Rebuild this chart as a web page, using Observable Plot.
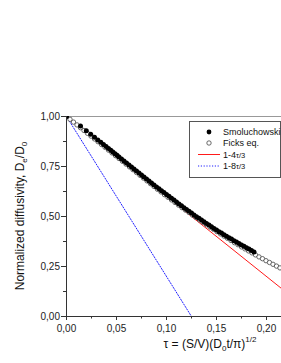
<!DOCTYPE html>
<html>
<head>
<meta charset="utf-8">
<script src="https://cdn.jsdelivr.net/npm/d3@7"></script>
<script src="https://cdn.jsdelivr.net/npm/@observablehq/plot@0.6"></script>
<style>
  body { margin: 0; background: white; }
  svg { display: block; }
</style>
</head>
<body>
<div id="chart"></div>
<script>
// Fick's equation (open circles)
const ficksTau = [0, .0035, .007, .0105, .014, .0175, .021, .0245, .028, .0315, .035, .0385, .042, .0455, .049, .0525, .056, .0595, .063, .0665, .07, .0735, .077, .0805, .084, .0875, .091, .0945, .098, .1015, .105, .1085, .112, .1155, .119, .1225, .126, .1295, .133, .1365, .14, .1435, .147, .1505, .154, .1575, .161, .1645, .168, .1715, .175, .1785, .182, .1855, .189, .1925, .196, .1995, .203, .2065, .21, .2135, .217];
const ficksD = [1.000, .986, .972, .958, .944, .930, .916, .902, .888, .874, .860, .846, .832, .818, .804, .790, .776, .762, .748, .734, .720, .706, .692, .678, .664, .650, .636, .623, .609, .596, .583, .570, .557, .544, .532, .520, .507, .495, .483, .471, .459, .447, .436, .424, .413, .402, .391, .380, .369, .359, .348, .338, .328, .318, .308, .298, .289, .279, .270, .261, .252, .243, .234];

// Smoluchowski (filled dots)
const smolTau = [0, .014, .0198, .0242, .028, .0313, .0343, .037, .0396, .042, .0443, .0464, .0485, .0505,
  .0525, .055, .0575, .06, .0625, .065, .0675, .07, .0725, .075, .0775, .08, .0825, .085, .0875, .09, .0925, .095, .0975, .1, .1025, .105, .1075, .11, .1125, .115, .1175, .12, .1225, .125, .1275, .13, .1325, .135, .1375, .14, .1425, .145, .1475, .15, .1525, .155, .1575, .16, .1625, .165, .1675, .17, .1725, .175, .1775, .18, .1825, .185, .1875];
const smolD = [1, .952, .929, .911, .896, .883, .871, .860, .850, .840, .831, .822, .814, .806,
  .798, .788, .778, .768, .758, .748, .738, .728, .718, .708, .698, .688, .678, .668, .658, .648, .639, .629, .620, .610, .601, .591, .582, .572, .563, .554, .544, .535, .526, .517, .508, .499, .491, .482, .474, .465, .457, .449, .440, .432, .424, .417, .409, .401, .394, .387, .379, .372, .365, .358, .351, .344, .337, .330, .323];

// Straight lines (endpoints)
const line4Tau = [0, 0.22];
const line4D = [1, 0.12];
const line8Tau = [0, 0.125];
const line8D = [1, 0];

// Ticks
const xMajor = [0, 0.05, 0.10, 0.15, 0.20];
const xMinor = [0.025, 0.075, 0.125, 0.175];
const yMajor = [0, 0.25, 0.50, 0.75, 1.00];
const yMinor = [0.125, 0.375, 0.625, 0.875];

const legendLabels = ["Smoluchowski", "Ficks eq.", "1-4", "1-8"];

const ficks = ficksTau.map((t, i) => ({t, d: ficksD[i]}));
const smol = smolTau.map((t, i) => ({t, d: smolD[i]}));
const l4 = line4Tau.map((t, i) => ({t, d: line4D[i]}));
const l8 = line8Tau.map((t, i) => ({t, d: line8D[i]}));
const fmt = d => d.toFixed(2).replace(".", ",");
const axisColor = "#333";

const svg = Plot.plot({
  width: 281,
  height: 363,
  marginTop: 116,
  marginBottom: 47,
  marginLeft: 66,
  marginRight: 0,
  style: {fontFamily: "'Liberation Sans', Arial, sans-serif", fontSize: "10px", color: "#222", background: "white"},
  x: {domain: [0, 0.215]},
  y: {domain: [0, 1]},
  marks: [
    Plot.ruleY([1], {stroke: "#999", strokeWidth: 1}),
    Plot.line(l8, {x: "t", y: "d", stroke: "#2020ff", strokeWidth: 1, strokeDasharray: "1.2,1.6", clip: true}),
    Plot.line(l4, {x: "t", y: "d", stroke: "#ff1a1a", strokeWidth: 1, clip: true}),
    Plot.dot(ficks, {x: "t", y: "d", r: 2.2, fill: "white", stroke: "#444", strokeWidth: 0.8, clip: true}),
    Plot.dot(smol, {x: "t", y: "d", r: 2.5, fill: "black", stroke: "none", clip: true}),
    Plot.ruleX([0], {stroke: axisColor, strokeWidth: 1}),
    Plot.ruleY([0], {stroke: axisColor, strokeWidth: 1}),
    Plot.axisY(yMajor, {tickSize: 5, tickPadding: 1.5, tickFormat: fmt, fontSize: 10, label: null, stroke: axisColor}),
    Plot.axisY(yMinor, {tickSize: 3, tickFormat: () => "", label: null, stroke: axisColor}),
    Plot.axisX(xMajor, {tickSize: 4, tickPadding: 4, tickFormat: fmt, fontSize: 10, label: null, stroke: axisColor}),
    Plot.axisX(xMinor, {tickSize: 2.5, tickFormat: () => "", label: null, stroke: axisColor})
  ]
});
document.getElementById("chart").appendChild(svg);

const s = d3.select(svg);
const ff = "'Liberation Sans', Arial, sans-serif";

// Y axis title
const yt = s.append("text")
  .attr("transform", "translate(24,216) rotate(-90)")
  .attr("text-anchor", "middle")
  .attr("font-family", ff).attr("font-size", 12).attr("fill", "#111");
yt.append("tspan").text("Normalized diffusivity, D");
yt.append("tspan").attr("font-size", 8).attr("dy", 3).text("e");
yt.append("tspan").attr("font-size", 12).attr("dy", -3).text("/D");
yt.append("tspan").attr("font-size", 8).attr("dy", 3).text("0");

// X axis title
const xt = s.append("text")
  .attr("x", 210).attr("y", 348)
  .attr("text-anchor", "middle")
  .attr("font-family", ff).attr("font-size", 12).attr("fill", "#111");
xt.append("tspan").text("τ = (S/V)(D");
xt.append("tspan").attr("font-size", 8).attr("dy", 3).text("0");
xt.append("tspan").attr("font-size", 12).attr("dy", -3).text("t/π)");
xt.append("tspan").attr("font-size", 8).attr("dy", -6).text("1/2");

// Legend
const lg = s.append("g").attr("font-family", ff).attr("font-size", 9).attr("fill", "#111").attr("text-anchor", "start");
lg.append("rect").attr("x", 189.5).attr("y", 121.5).attr("width", 91).attr("height", 56)
  .attr("fill", "white").attr("stroke", "#555").attr("stroke-width", 1);
const rows = [132, 143, 154.5, 166];
lg.append("circle").attr("cx", 209).attr("cy", rows[0]).attr("r", 2.4).attr("fill", "black");
lg.append("circle").attr("cx", 209).attr("cy", rows[1]).attr("r", 2.2).attr("fill", "white").attr("stroke", "#444").attr("stroke-width", 0.8);
lg.append("line").attr("x1", 198).attr("x2", 220).attr("y1", rows[2]).attr("y2", rows[2]).attr("stroke", "#ff1a1a");
lg.append("line").attr("x1", 198).attr("x2", 220).attr("y1", rows[3]).attr("y2", rows[3]).attr("stroke", "#2020ff").attr("stroke-dasharray", "1.2,1.6");
rows.forEach((y, i) => {
  const t = lg.append("text").attr("x", 223).attr("y", y).attr("dy", "0.35em").attr("text-anchor", "start");
  t.append("tspan").text(legendLabels[i]);
  if (i >= 2) t.append("tspan").attr("font-size", 7.5).text("τ/3");
});
</script>
</body>
</html>
